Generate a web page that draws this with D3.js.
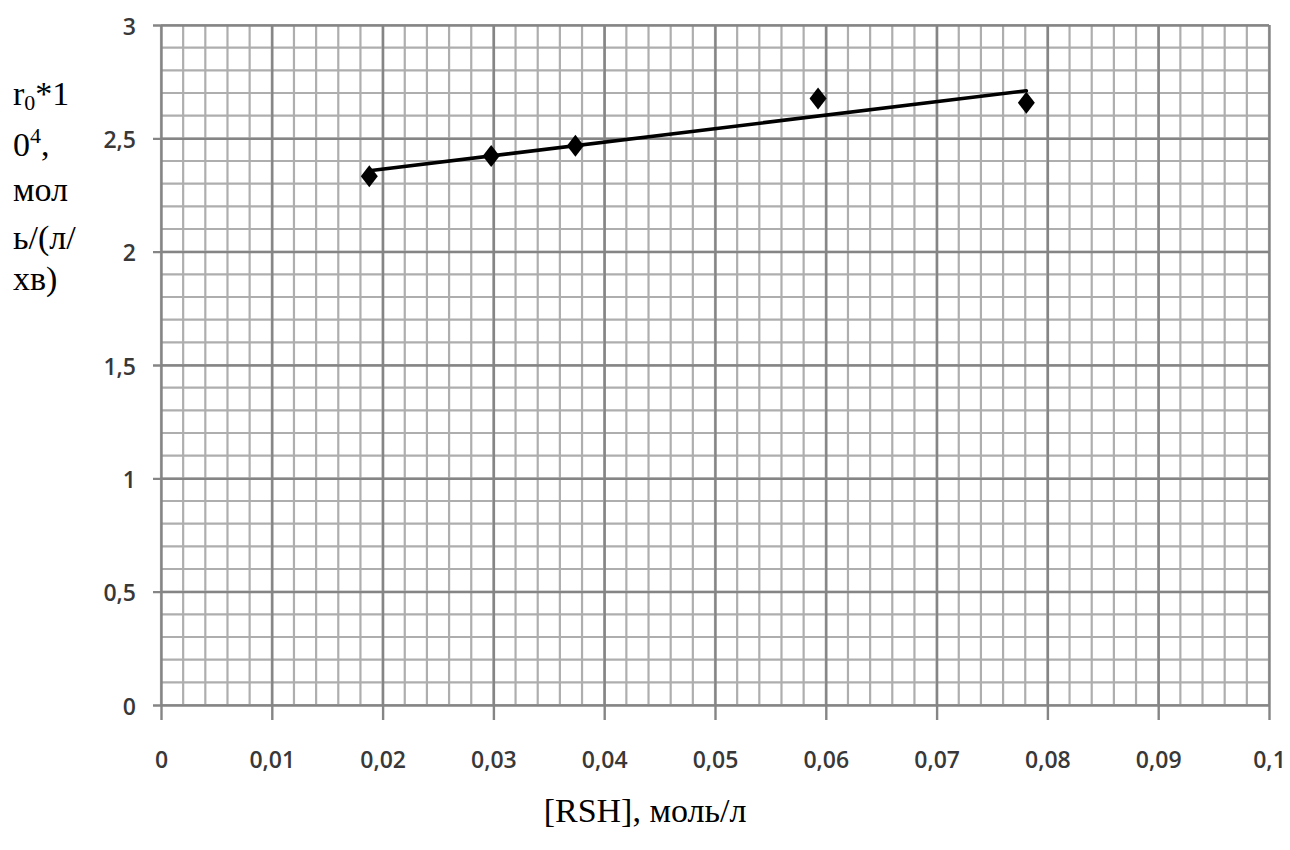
<!DOCTYPE html>
<html>
<head>
<meta charset="utf-8">
<script src="https://cdn.jsdelivr.net/npm/d3@7"></script>
<style>
  html, body { margin: 0; padding: 0; background: #fff; }
  svg { display: block; }
</style>
</head>
<body>
<svg id="chart" width="1290" height="850"></svg>
<script>
// ---- data ----
const xValues = [0.0188, 0.0298, 0.0374, 0.0593, 0.0781];
const yValues = [2.333, 2.422, 2.467, 2.676, 2.657];
const xTicks = [0, 0.01, 0.02, 0.03, 0.04, 0.05, 0.06, 0.07, 0.08, 0.09, 0.1];
const xTickLabels = ["0", "0,01", "0,02", "0,03", "0,04", "0,05", "0,06", "0,07", "0,08", "0,09", "0,1"];
const yTicks = [0, 0.5, 1, 1.5, 2, 2.5, 3];
const yTickLabels = ["0", "0,5", "1", "1,5", "2", "2,5", "3"];
const xMinorStep = 0.002, xMinorCount = 50;
const yMinorStep = 0.1, yMinorCount = 30;

// ---- layout ----
const plotL = 161, plotR = 1269, plotT = 25, plotB = 705;
const svg = d3.select("#chart");
const x = d3.scaleLinear().domain([0, 0.1]).range([plotL, plotR]);
const y = d3.scaleLinear().domain([0, 3]).range([plotB, plotT]);

// minor grid
const grid = svg.append("g");
grid.selectAll("line.vx").data(d3.range(0, xMinorCount + 1).map(i => i * xMinorStep))
  .join("line").attr("class", "vx")
  .attr("x1", d => x(d)).attr("x2", d => x(d))
  .attr("y1", plotT).attr("y2", plotB)
  .attr("stroke", "#aeaeae").attr("stroke-width", 2.2);
grid.selectAll("line.hy").data(d3.range(0, yMinorCount + 1).map(i => i * yMinorStep))
  .join("line").attr("class", "hy")
  .attr("x1", plotL).attr("x2", plotR)
  .attr("y1", d => y(d)).attr("y2", d => y(d))
  .attr("stroke", "#aeaeae").attr("stroke-width", 2.2);

// major grid + axes
const fmtX = (d, i) => xTickLabels[i];
const fmtY = (d, i) => yTickLabels[i];
const tickFont = "Open Sans, sans-serif";
const xAxis = svg.append("g").attr("transform", `translate(0,${plotB})`)
  .call(d3.axisBottom(x).tickValues(xTicks).tickFormat(fmtX).tickSizeInner(-(plotB - plotT)).tickSizeOuter(0).tickPadding(0));
xAxis.select(".domain").remove();
xAxis.selectAll(".tick line").attr("y1", 15).attr("stroke", "#858585").attr("stroke-width", 2.4);
xAxis.selectAll(".tick text").attr("y", 55).attr("dy", "0.36em")
  .attr("fill", "#383838").attr("font-family", tickFont).attr("font-size", 23).attr("font-weight", 600);

const yAxis = svg.append("g").attr("transform", `translate(${plotL},0)`)
  .call(d3.axisLeft(y).tickValues(yTicks).tickFormat(fmtY).tickSizeInner(-(plotR - plotL)).tickSizeOuter(0).tickPadding(0));
yAxis.select(".domain").remove();
yAxis.selectAll(".tick line").attr("x1", -8).attr("stroke", "#858585").attr("stroke-width", 2.4);
yAxis.selectAll(".tick text").attr("x", -25).attr("dy", "0.4em")
  .attr("fill", "#383838").attr("font-family", tickFont).attr("font-size", 23).attr("font-weight", 600);

// trend line (least squares)
const mx = d3.mean(xValues), my = d3.mean(yValues);
const slope = d3.sum(xValues, (v, i) => (v - mx) * (yValues[i] - my)) / d3.sum(xValues, v => (v - mx) * (v - mx));
const icpt = my - slope * mx;
const xa = d3.min(xValues), xb = d3.max(xValues);
svg.append("line")
  .attr("x1", x(xa)).attr("y1", y(icpt + slope * xa))
  .attr("x2", x(xb)).attr("y2", y(icpt + slope * xb))
  .attr("stroke", "#000").attr("stroke-width", 3.6).attr("stroke-linecap", "round");

// markers
const pts = xValues.map((v, i) => [v, yValues[i]]);
svg.selectAll("path.pt").data(pts).join("path").attr("class", "pt")
  .attr("d", d => `M${x(d[0])},${y(d[1]) - 11}L${x(d[0]) + 8.5},${y(d[1])}L${x(d[0])},${y(d[1]) + 11}L${x(d[0]) - 8.5},${y(d[1])}Z`)
  .attr("fill", "#000");

// y-axis title
const yt = svg.append("text").attr("font-family", "Liberation Serif, Times New Roman, serif")
  .attr("font-size", 34).attr("fill", "#000");
const l1 = yt.append("tspan").attr("x", 13).attr("y", 105);
l1.append("tspan").text("r");
l1.append("tspan").attr("font-size", 22).attr("dy", 5).text("0");
l1.append("tspan").attr("dy", -5).text("*1");
const l2 = yt.append("tspan").attr("x", 13).attr("y", 156);
l2.append("tspan").text("0");
l2.append("tspan").attr("font-size", 22).attr("dy", -13).text("4");
l2.append("tspan").attr("dy", 13).text(",");
yt.append("tspan").attr("x", 13).attr("y", 201).text("мол");
yt.append("tspan").attr("x", 13).attr("y", 249).text("ь/(л/");
yt.append("tspan").attr("x", 13).attr("y", 290).text("хв)");

// x-axis title
svg.append("text").attr("x", 645).attr("y", 822).attr("text-anchor", "middle")
  .attr("font-family", "Liberation Serif, Times New Roman, serif").attr("font-size", 34).attr("fill", "#000")
  .text("[RSH], моль/л");
</script>
</body>
</html>
